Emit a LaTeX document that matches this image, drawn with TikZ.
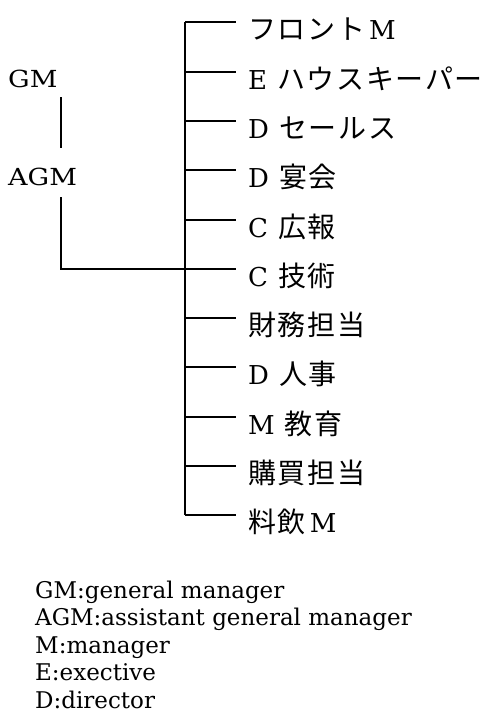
\documentclass[tikz,border=0pt]{standalone}
\usepackage{fontspec}
\setmainfont{DejaVu Serif}
\newfontfamily\jpfont[LetterSpace=6]{Noto Sans CJK JP}
\newfontfamily\widefont[FakeStretch=1.15]{DejaVu Serif}
\newcommand{\J}[1]{{\fontsize{28}{32}\selectfont\jpfont #1}}
\newcommand{\gp}{\hspace{10pt}}
\begin{document}
\begin{tikzpicture}[x=1pt,y=-1pt,
  conn/.style={line width=2pt,black},
  lab/.style={anchor=base west,inner sep=0pt,font=\fontsize{26}{30}\selectfont},
  top/.style={anchor=base west,inner sep=0pt,font=\fontsize{23.5}{30}\selectfont\widefont},
  leg/.style={anchor=base west,inner sep=0pt,font=\fontsize{23}{28}\selectfont}]
\useasboundingbox (0,0) rectangle (485,718);
% GM / AGM
\node[top] (gm) at (8,87) {GM};
\node[top] (agm) at (8,185) {AGM};
\coordinate (gmb) at (61,97);
\coordinate (agmt) at (61,148);
\coordinate (agmb) at (61,197);
\draw[conn] (gmb) -- (agmt);
% bus and branches
\foreach \i/\y/\t in {1/22/{\J{フロント}\hspace{4pt}M},
  2/72/{E\gp\J{ハウスキーパー}},
  3/121/{D\gp\J{セールス}},
  4/170/{D\gp\J{宴会}},
  5/220/{C\gp\J{広報}},
  6/269/{C\gp\J{技術}},
  7/318/{\J{財務担当}},
  8/367/{D\gp\J{人事}},
  9/417/{M\gp\J{教育}},
  10/466/{\J{購買担当}},
  11/515/{\J{料飲}\hspace{4pt}M}}{
  \coordinate (b\i) at (185,\y);
  \coordinate (e\i) at (236,\y);
  \node[lab] (l\i) at (248,\y+17.5) {\t};
  \draw[conn] (b\i) -- (e\i);
}
\draw[conn] (b1) -- (b11);
\draw[conn] (agmb) |- (b6);
% legend
\node[leg] (g1) at (35,598) {GM:general manager};
\node[leg] (g2) at (35,625) {AGM:assistant general manager};
\node[leg] (g3) at (35,653) {M:manager};
\node[leg] (g4) at (35,680) {E:exective};
\node[leg] (g5) at (35,708) {D:director};
\end{tikzpicture}
\end{document}
